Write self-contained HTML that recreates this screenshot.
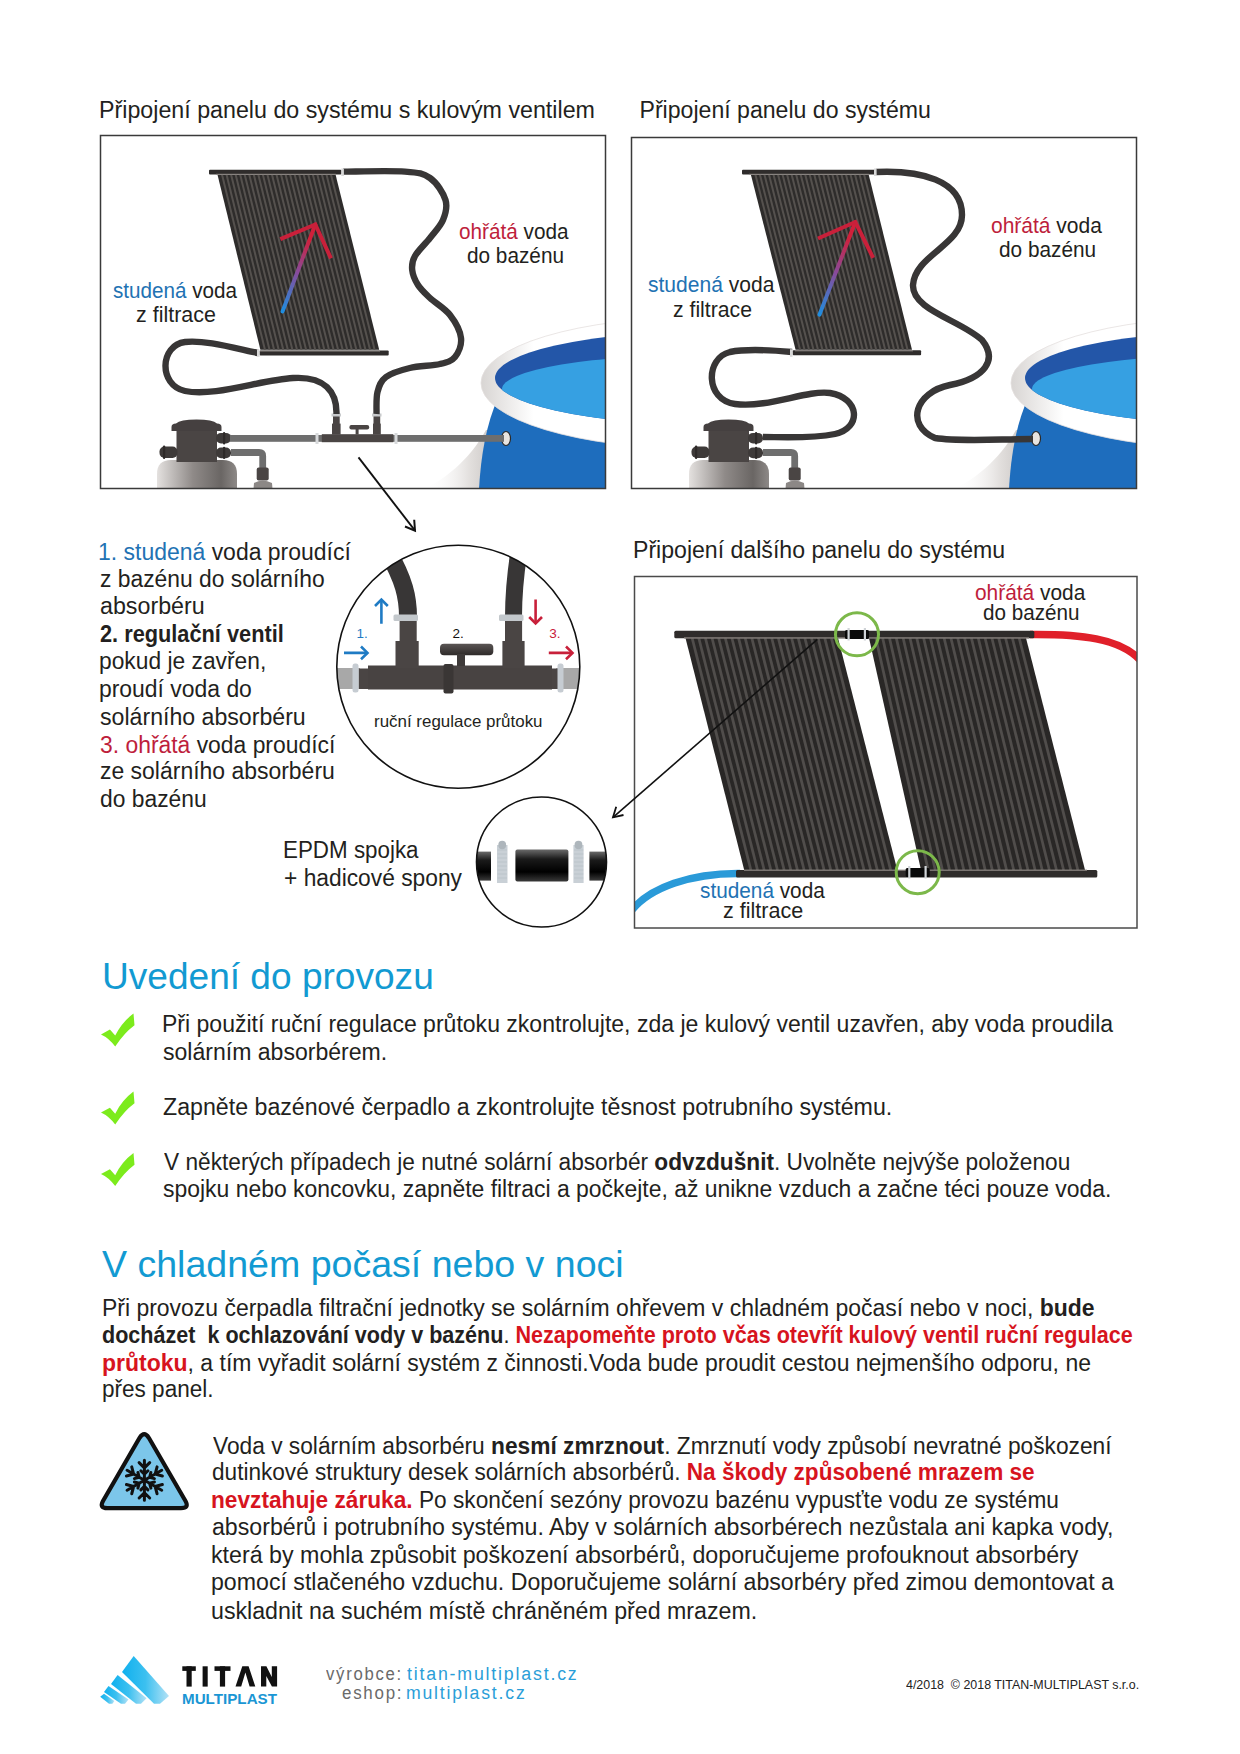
<!DOCTYPE html>
<html><head><meta charset="utf-8">
<style>
html,body{margin:0;padding:0;background:#fff;}
body{width:1240px;height:1754px;position:relative;overflow:hidden;font-family:"Liberation Sans",sans-serif;color:#231f20;}
.t{position:absolute;white-space:nowrap;}
b{font-weight:bold;}
svg.g{position:absolute;left:0;top:0;}
</style></head><body>
<svg class="g" width="1240" height="1754" viewBox="0 0 1240 1754">
<defs>
<linearGradient id="arrowg" x1="0" y1="1" x2="0.35" y2="0">
  <stop offset="0" stop-color="#1f8ee0"/><stop offset="0.55" stop-color="#8a4a9a"/><stop offset="1" stop-color="#d0203a"/>
</linearGradient>
<linearGradient id="arrowg2" gradientUnits="userSpaceOnUse" x1="0" y1="0" x2="0" y2="1">
  <stop offset="0" stop-color="#d0203a"/><stop offset="1" stop-color="#1f8ee0"/>
</linearGradient>
<linearGradient id="tank" x1="0" y1="0" x2="1" y2="0">
  <stop offset="0" stop-color="#e4e1df"/><stop offset="0.45" stop-color="#8f8a88"/><stop offset="0.8" stop-color="#6a6664"/><stop offset="1" stop-color="#8d8987"/>
</linearGradient>
<linearGradient id="rimg" x1="0" y1="0" x2="0" y2="1">
  <stop offset="0" stop-color="#f4f4f4"/><stop offset="0.5" stop-color="#ffffff"/><stop offset="1" stop-color="#e9e6e4"/>
</linearGradient>
<linearGradient id="poolbody" x1="0" y1="0" x2="1" y2="0">
  <stop offset="0" stop-color="#1d6cc0"/><stop offset="0.5" stop-color="#1f6fbe"/><stop offset="1" stop-color="#1e6cb8"/>
</linearGradient>
<radialGradient id="shadow" cx="1" cy="1" r="1">
  <stop offset="0" stop-color="#c9c5c3"/><stop offset="0.6" stop-color="#eeeceb"/><stop offset="1" stop-color="#ffffff" stop-opacity="0"/>
</radialGradient>
<linearGradient id="blackpipe" x1="0" y1="0" x2="0" y2="1">
  <stop offset="0" stop-color="#6a6a6a"/><stop offset="0.3" stop-color="#1a1a1a"/><stop offset="0.7" stop-color="#000"/><stop offset="1" stop-color="#3a3a3a"/>
</linearGradient>
<linearGradient id="disc" x1="0" y1="0" x2="0" y2="1">
  <stop offset="0" stop-color="#5a5554"/><stop offset="1" stop-color="#2e2a29"/>
</linearGradient>
<linearGradient id="logog" x1="0" y1="0" x2="1" y2="0">
  <stop offset="0" stop-color="#0fb0ee"/><stop offset="0.5" stop-color="#3cc0f0"/><stop offset="1" stop-color="#b4e2f6"/>
</linearGradient>
<linearGradient id="gshadow" x1="0" y1="0" x2="1" y2="0">
  <stop offset="0" stop-color="#ffffff" stop-opacity="0"/><stop offset="0.6" stop-color="#e2dfdd"/><stop offset="1" stop-color="#c4c0be"/>
</linearGradient>
<linearGradient id="rimshade" x1="0" y1="0" x2="1" y2="0">
  <stop offset="0" stop-color="#d8d5d3"/><stop offset="0.12" stop-color="#ffffff"/><stop offset="1" stop-color="#ffffff"/>
</linearGradient>
<clipPath id="clip1"><rect x="100.5" y="135.5" width="505" height="353"/></clipPath>
<clipPath id="clip2"><rect x="631.5" y="137.5" width="505" height="351"/></clipPath>
<clipPath id="clip3"><rect x="634.5" y="576.5" width="502.5" height="351.5"/></clipPath>
<clipPath id="clipc1"><circle cx="458.3" cy="666.7" r="121.5"/></clipPath>
<clipPath id="clipc2"><circle cx="541.5" cy="862" r="65"/></clipPath>
</defs>
<g clip-path="url(#clip1)">
<g clip-path="url(#clip1)">
<path d="M425,489 C445,478 468,462 486,430 L500,430 L500,489 Z" fill="url(#gshadow)"/>
<path d="M479,489 C481,455 486,425 498,398 L640,398 L640,489 Z" fill="#1e6dbd"/>
<ellipse cx="700" cy="383" rx="219" ry="66" fill="url(#rimshade)" stroke="#e4e0de" stroke-width="0.8"/>
<ellipse cx="700" cy="378" rx="205" ry="46" fill="#2356a8"/>
<clipPath id="wclip1"><ellipse cx="700" cy="378" rx="205" ry="46"/></clipPath>
<ellipse cx="705" cy="389" rx="203" ry="34.5" fill="#36a0e2" clip-path="url(#wclip1)"/>
<ellipse cx="506" cy="438.5" rx="4.5" ry="7" fill="#e8e4e0" stroke="#2a2a2a" stroke-width="1.2"/>
</g>
<path d="M157,489 L157,474 Q157,460 171,460 L223,460 Q237,460 237,474 L237,489 Z" fill="url(#tank)"/>
<rect x="176.5" y="428" width="40.5" height="34" fill="#4a4544"/>
<path d="M171.5,431 L171.5,427 Q171.5,423.5 176,423.5 Q180,419.5 196.5,419.5 Q213,419.5 217,423.5 Q221.5,423.5 221.5,427 L221.5,431 Z" fill="#454040"/>
<rect x="159.5" y="446.5" width="18" height="11.5" rx="5" fill="#3e3a39"/>
<rect x="163" y="445.5" width="2.2" height="13.5" rx="1" fill="#2e2a29"/>
<rect x="216" y="432.9" width="15" height="10.6" rx="5" fill="#3e3a39"/>
<rect x="223" y="432" width="2.2" height="12.4" rx="1" fill="#2e2a29"/>
<rect x="216" y="447.6" width="15" height="10.6" rx="5" fill="#3e3a39"/>
<rect x="223" y="446.7" width="2.2" height="12.4" rx="1" fill="#2e2a29"/>
<path d="M231,452.5 L259,452.5 Q262.7,452.5 262.7,456 L262.7,468" fill="none" stroke="#6e6e6e" stroke-width="6.8"/>
<rect x="256.7" y="467.5" width="12" height="13" rx="2" fill="#4a4544"/>
<path d="M253.5,489 L254,483 Q262.5,478 272,483 L272.5,489 Z" fill="#8c8886"/>
<rect x="230" y="435" width="92" height="6.8" fill="#6e6e6e"/>
<rect x="392" y="435" width="112" height="6.8" fill="#6e6e6e"/>
<rect x="321.8" y="434.2" width="71.5" height="8" fill="#4a4544"/>
<rect x="315.5" y="433" width="3" height="11" fill="#d8dadc"/><rect x="394.5" y="433" width="3" height="11" fill="#d8dadc"/>
<rect x="332" y="423.6" width="8.6" height="11" fill="#4a4544"/><rect x="333" y="416" width="6.7" height="8" fill="#4a4544"/>
<rect x="373" y="423.6" width="7.8" height="11" fill="#4a4544"/><rect x="373.5" y="416" width="6.7" height="8" fill="#4a4544"/>
<rect x="331.5" y="413.5" width="9.5" height="3" fill="#c8cacc"/><rect x="372" y="413.5" width="9.5" height="3" fill="#c8cacc"/>
<rect x="349.4" y="425" width="19.8" height="4.6" rx="2" fill="#4a4544"/><rect x="355.6" y="429" width="3" height="5.5" fill="#4a4544"/>
<path d="M258,353 C230,347 205,340 185,342 C160,345 158,385 185,391 C215,397 260,380 293,378 C325,376 337,392 336.5,414" fill="none" stroke="#383636" stroke-width="6.4"/>
<path d="M343,171.6 C353.3,171.6 390.5,170.5 405,171.6 C419.5,172.7 423.2,173.3 430,178 C436.8,182.7 443.3,193.0 445.5,200 C447.7,207.0 445.6,213.7 443,220 C440.4,226.3 434.7,232.0 430,238 C425.3,244.0 418.0,250.7 415,256 C412.0,261.3 411.7,265.2 412.2,270 C412.7,274.8 415.0,280.3 418,285 C421.0,289.7 424.7,293.0 430,298 C435.3,303.0 444.8,308.3 450,315 C455.2,321.7 460.2,331.0 461,338 C461.8,345.0 458.5,352.7 455,357 C451.5,361.3 447.5,362.2 440,364 C432.5,365.8 418.8,365.8 409.8,368 C400.8,370.2 391.4,373.0 386,377 C380.6,381.0 379.1,385.8 377.5,392 C375.9,398.2 376.7,410.3 376.5,414" fill="none" stroke="#383636" stroke-width="6.4"/>
<polygon points="217.5,174.8 335.6,174.8 379.2,349.8 260.4,349.8" fill="#2e2c2b"/>
<line x1="222.04" y1="174.8" x2="264.97" y2="349.8" stroke="#55514e" stroke-width="2.0"/>
<line x1="226.58" y1="174.8" x2="269.54" y2="349.8" stroke="#55514e" stroke-width="2.0"/>
<line x1="231.13" y1="174.8" x2="274.11" y2="349.8" stroke="#55514e" stroke-width="2.0"/>
<line x1="235.67" y1="174.8" x2="278.68" y2="349.8" stroke="#55514e" stroke-width="2.0"/>
<line x1="240.21" y1="174.8" x2="283.25" y2="349.8" stroke="#55514e" stroke-width="2.0"/>
<line x1="244.75" y1="174.8" x2="287.82" y2="349.8" stroke="#55514e" stroke-width="2.0"/>
<line x1="249.30" y1="174.8" x2="292.38" y2="349.8" stroke="#55514e" stroke-width="2.0"/>
<line x1="253.84" y1="174.8" x2="296.95" y2="349.8" stroke="#55514e" stroke-width="2.0"/>
<line x1="258.38" y1="174.8" x2="301.52" y2="349.8" stroke="#55514e" stroke-width="2.0"/>
<line x1="262.92" y1="174.8" x2="306.09" y2="349.8" stroke="#55514e" stroke-width="2.0"/>
<line x1="267.47" y1="174.8" x2="310.66" y2="349.8" stroke="#55514e" stroke-width="2.0"/>
<line x1="272.01" y1="174.8" x2="315.23" y2="349.8" stroke="#55514e" stroke-width="2.0"/>
<line x1="276.55" y1="174.8" x2="319.80" y2="349.8" stroke="#55514e" stroke-width="2.0"/>
<line x1="281.09" y1="174.8" x2="324.37" y2="349.8" stroke="#55514e" stroke-width="2.0"/>
<line x1="285.63" y1="174.8" x2="328.94" y2="349.8" stroke="#55514e" stroke-width="2.0"/>
<line x1="290.18" y1="174.8" x2="333.51" y2="349.8" stroke="#55514e" stroke-width="2.0"/>
<line x1="294.72" y1="174.8" x2="338.08" y2="349.8" stroke="#55514e" stroke-width="2.0"/>
<line x1="299.26" y1="174.8" x2="342.65" y2="349.8" stroke="#55514e" stroke-width="2.0"/>
<line x1="303.80" y1="174.8" x2="347.22" y2="349.8" stroke="#55514e" stroke-width="2.0"/>
<line x1="308.35" y1="174.8" x2="351.78" y2="349.8" stroke="#55514e" stroke-width="2.0"/>
<line x1="312.89" y1="174.8" x2="356.35" y2="349.8" stroke="#55514e" stroke-width="2.0"/>
<line x1="317.43" y1="174.8" x2="360.92" y2="349.8" stroke="#55514e" stroke-width="2.0"/>
<line x1="321.97" y1="174.8" x2="365.49" y2="349.8" stroke="#55514e" stroke-width="2.0"/>
<line x1="326.52" y1="174.8" x2="370.06" y2="349.8" stroke="#55514e" stroke-width="2.0"/>
<line x1="331.06" y1="174.8" x2="374.63" y2="349.8" stroke="#55514e" stroke-width="2.0"/>
<rect x="209" y="169.8" width="132.5" height="4.8" rx="1" fill="#2f2c2b"/><rect x="216" y="173.8" width="120" height="1" fill="#8d8783"/>
<rect x="259.5" y="350.5" width="129.2" height="5" rx="1" fill="#2f2c2b"/><rect x="260" y="350.5" width="120" height="1" fill="#8d8783"/>
<rect x="341.3" y="168.5" width="2.6" height="7.5" fill="#d8d8d8"/><rect x="257" y="349.3" width="2.6" height="7.5" fill="#d8d8d8"/>
<line x1="282.6" y1="311.4" x2="315.3" y2="224.5" stroke="url(#arrowg)" stroke-width="4" stroke-linecap="round"/>
<polyline points="280.3,239.2 315.3,224.5 331,258.4" fill="none" stroke="#c9203a" stroke-width="4" stroke-linejoin="miter"/>
</g>
<rect x="100.5" y="135.5" width="505" height="353" fill="none" stroke="#3a3a3a" stroke-width="1.5"/>
<line x1="358.5" y1="457.3" x2="415" y2="530.7" stroke="#111" stroke-width="1.9"/>
<polyline points="414.2,519.8 415,530.7 405,526.5" fill="none" stroke="#111" stroke-width="2"/>
<g clip-path="url(#clip2)">
<g clip-path="url(#clip2)">
<path d="M955,489 C975,478 998,462 1016,430 L1030,430 L1030,489 Z" fill="url(#gshadow)"/>
<path d="M1009,489 C1011,455 1016,425 1028,398 L1170,398 L1170,489 Z" fill="#1e6dbd"/>
<ellipse cx="1230" cy="383" rx="219" ry="66" fill="url(#rimshade)" stroke="#e4e0de" stroke-width="0.8"/>
<ellipse cx="1230" cy="378" rx="205" ry="46" fill="#2356a8"/>
<clipPath id="wclip2"><ellipse cx="1230" cy="378" rx="205" ry="46"/></clipPath>
<ellipse cx="1235" cy="389" rx="203" ry="34.5" fill="#36a0e2" clip-path="url(#wclip2)"/>
<ellipse cx="1036" cy="438.5" rx="4.5" ry="7" fill="#e8e4e0" stroke="#2a2a2a" stroke-width="1.2"/>
</g>
<path d="M689,489 L689,474 Q689,460 703,460 L755,460 Q769,460 769,474 L769,489 Z" fill="url(#tank)"/>
<rect x="708.5" y="428" width="40.5" height="34" fill="#4a4544"/>
<path d="M703.5,431 L703.5,427 Q703.5,423.5 708,423.5 Q712,419.5 728.5,419.5 Q745,419.5 749,423.5 Q753.5,423.5 753.5,427 L753.5,431 Z" fill="#454040"/>
<rect x="691.5" y="446.5" width="18" height="11.5" rx="5" fill="#3e3a39"/>
<rect x="695" y="445.5" width="2.2" height="13.5" rx="1" fill="#2e2a29"/>
<rect x="748" y="432.9" width="15" height="10.6" rx="5" fill="#3e3a39"/>
<rect x="755" y="432" width="2.2" height="12.4" rx="1" fill="#2e2a29"/>
<rect x="748" y="447.6" width="15" height="10.6" rx="5" fill="#3e3a39"/>
<rect x="755" y="446.7" width="2.2" height="12.4" rx="1" fill="#2e2a29"/>
<path d="M763,452.5 L791,452.5 Q794.7,452.5 794.7,456 L794.7,468" fill="none" stroke="#6e6e6e" stroke-width="6.8"/>
<rect x="788.7" y="467.5" width="12" height="13" rx="2" fill="#4a4544"/>
<path d="M785.5,489 L786,483 Q794.5,478 804,483 L804.5,489 Z" fill="#8c8886"/>
<path d="M792,352 C770,350 745,349 730,352 C705,358 705,400 735,404 C770,408 805,390 830,393 C860,398 862,428 835,434 C810,439 780,437 763,437" fill="none" stroke="#383636" stroke-width="6.4"/>
<path d="M876,172 C920,170 962,180 962,215 C962,245 915,255 913,285 C912,310 960,320 982,340 C998,360 985,378 950,385 C915,392 905,425 935,438 C960,442 1000,439 1033,439" fill="none" stroke="#383636" stroke-width="6.4"/>
<polygon points="750.9,174.8 868.7,174.8 912,349.8 795.6,349.8" fill="#2e2c2b"/>
<line x1="755.43" y1="174.8" x2="800.08" y2="349.8" stroke="#55514e" stroke-width="2.0"/>
<line x1="759.96" y1="174.8" x2="804.55" y2="349.8" stroke="#55514e" stroke-width="2.0"/>
<line x1="764.49" y1="174.8" x2="809.03" y2="349.8" stroke="#55514e" stroke-width="2.0"/>
<line x1="769.02" y1="174.8" x2="813.51" y2="349.8" stroke="#55514e" stroke-width="2.0"/>
<line x1="773.55" y1="174.8" x2="817.98" y2="349.8" stroke="#55514e" stroke-width="2.0"/>
<line x1="778.08" y1="174.8" x2="822.46" y2="349.8" stroke="#55514e" stroke-width="2.0"/>
<line x1="782.62" y1="174.8" x2="826.94" y2="349.8" stroke="#55514e" stroke-width="2.0"/>
<line x1="787.15" y1="174.8" x2="831.42" y2="349.8" stroke="#55514e" stroke-width="2.0"/>
<line x1="791.68" y1="174.8" x2="835.89" y2="349.8" stroke="#55514e" stroke-width="2.0"/>
<line x1="796.21" y1="174.8" x2="840.37" y2="349.8" stroke="#55514e" stroke-width="2.0"/>
<line x1="800.74" y1="174.8" x2="844.85" y2="349.8" stroke="#55514e" stroke-width="2.0"/>
<line x1="805.27" y1="174.8" x2="849.32" y2="349.8" stroke="#55514e" stroke-width="2.0"/>
<line x1="809.80" y1="174.8" x2="853.80" y2="349.8" stroke="#55514e" stroke-width="2.0"/>
<line x1="814.33" y1="174.8" x2="858.28" y2="349.8" stroke="#55514e" stroke-width="2.0"/>
<line x1="818.86" y1="174.8" x2="862.75" y2="349.8" stroke="#55514e" stroke-width="2.0"/>
<line x1="823.39" y1="174.8" x2="867.23" y2="349.8" stroke="#55514e" stroke-width="2.0"/>
<line x1="827.92" y1="174.8" x2="871.71" y2="349.8" stroke="#55514e" stroke-width="2.0"/>
<line x1="832.45" y1="174.8" x2="876.18" y2="349.8" stroke="#55514e" stroke-width="2.0"/>
<line x1="836.98" y1="174.8" x2="880.66" y2="349.8" stroke="#55514e" stroke-width="2.0"/>
<line x1="841.52" y1="174.8" x2="885.14" y2="349.8" stroke="#55514e" stroke-width="2.0"/>
<line x1="846.05" y1="174.8" x2="889.62" y2="349.8" stroke="#55514e" stroke-width="2.0"/>
<line x1="850.58" y1="174.8" x2="894.09" y2="349.8" stroke="#55514e" stroke-width="2.0"/>
<line x1="855.11" y1="174.8" x2="898.57" y2="349.8" stroke="#55514e" stroke-width="2.0"/>
<line x1="859.64" y1="174.8" x2="903.05" y2="349.8" stroke="#55514e" stroke-width="2.0"/>
<line x1="864.17" y1="174.8" x2="907.52" y2="349.8" stroke="#55514e" stroke-width="2.0"/>
<rect x="742" y="169.8" width="133" height="4.8" rx="1" fill="#2f2c2b"/><rect x="749" y="173.8" width="120" height="1" fill="#8d8783"/>
<rect x="792.6" y="350.3" width="128.5" height="5" rx="1" fill="#2f2c2b"/><rect x="795" y="350.3" width="118" height="1" fill="#8d8783"/>
<rect x="874" y="168.5" width="2.6" height="7.5" fill="#d8d8d8"/><rect x="790" y="349.3" width="2.6" height="7.5" fill="#d8d8d8"/>
<line x1="819.5" y1="314.6" x2="855.3" y2="222" stroke="url(#arrowg)" stroke-width="4" stroke-linecap="round"/>
<polyline points="818,238.5 855.3,222 873.2,257.9" fill="none" stroke="#c9203a" stroke-width="4"/>
</g>
<rect x="631.5" y="137.5" width="505" height="351" fill="none" stroke="#3a3a3a" stroke-width="1.5"/>
<g clip-path="url(#clip3)">
<path d="M1030,634.5 C1080,634 1120,638 1140,660" fill="none" stroke="#e0202a" stroke-width="7.5"/>
<path d="M740,873.5 C690,873 650,888 632,910" fill="none" stroke="#2a9ad8" stroke-width="7.5"/>
<polygon points="685.5,638 838,638 897.3,870 744.2,870" fill="#292726"/>
<line x1="692.13" y1="638" x2="750.86" y2="870" stroke="#504d4b" stroke-width="2.8"/>
<line x1="698.76" y1="638" x2="757.51" y2="870" stroke="#504d4b" stroke-width="2.8"/>
<line x1="705.39" y1="638" x2="764.17" y2="870" stroke="#504d4b" stroke-width="2.8"/>
<line x1="712.02" y1="638" x2="770.83" y2="870" stroke="#504d4b" stroke-width="2.8"/>
<line x1="718.65" y1="638" x2="777.48" y2="870" stroke="#504d4b" stroke-width="2.8"/>
<line x1="725.28" y1="638" x2="784.14" y2="870" stroke="#504d4b" stroke-width="2.8"/>
<line x1="731.91" y1="638" x2="790.80" y2="870" stroke="#504d4b" stroke-width="2.8"/>
<line x1="738.54" y1="638" x2="797.45" y2="870" stroke="#504d4b" stroke-width="2.8"/>
<line x1="745.17" y1="638" x2="804.11" y2="870" stroke="#504d4b" stroke-width="2.8"/>
<line x1="751.80" y1="638" x2="810.77" y2="870" stroke="#504d4b" stroke-width="2.8"/>
<line x1="758.43" y1="638" x2="817.42" y2="870" stroke="#504d4b" stroke-width="2.8"/>
<line x1="765.07" y1="638" x2="824.08" y2="870" stroke="#504d4b" stroke-width="2.8"/>
<line x1="771.70" y1="638" x2="830.73" y2="870" stroke="#504d4b" stroke-width="2.8"/>
<line x1="778.33" y1="638" x2="837.39" y2="870" stroke="#504d4b" stroke-width="2.8"/>
<line x1="784.96" y1="638" x2="844.05" y2="870" stroke="#504d4b" stroke-width="2.8"/>
<line x1="791.59" y1="638" x2="850.70" y2="870" stroke="#504d4b" stroke-width="2.8"/>
<line x1="798.22" y1="638" x2="857.36" y2="870" stroke="#504d4b" stroke-width="2.8"/>
<line x1="804.85" y1="638" x2="864.02" y2="870" stroke="#504d4b" stroke-width="2.8"/>
<line x1="811.48" y1="638" x2="870.67" y2="870" stroke="#504d4b" stroke-width="2.8"/>
<line x1="818.11" y1="638" x2="877.33" y2="870" stroke="#504d4b" stroke-width="2.8"/>
<line x1="824.74" y1="638" x2="883.99" y2="870" stroke="#504d4b" stroke-width="2.8"/>
<line x1="831.37" y1="638" x2="890.64" y2="870" stroke="#504d4b" stroke-width="2.8"/>
<polygon points="869,638 1026,638 1085,870 921,870" fill="#292726"/>
<line x1="875.83" y1="638" x2="928.13" y2="870" stroke="#504d4b" stroke-width="2.8"/>
<line x1="882.65" y1="638" x2="935.26" y2="870" stroke="#504d4b" stroke-width="2.8"/>
<line x1="889.48" y1="638" x2="942.39" y2="870" stroke="#504d4b" stroke-width="2.8"/>
<line x1="896.30" y1="638" x2="949.52" y2="870" stroke="#504d4b" stroke-width="2.8"/>
<line x1="903.13" y1="638" x2="956.65" y2="870" stroke="#504d4b" stroke-width="2.8"/>
<line x1="909.96" y1="638" x2="963.78" y2="870" stroke="#504d4b" stroke-width="2.8"/>
<line x1="916.78" y1="638" x2="970.91" y2="870" stroke="#504d4b" stroke-width="2.8"/>
<line x1="923.61" y1="638" x2="978.04" y2="870" stroke="#504d4b" stroke-width="2.8"/>
<line x1="930.43" y1="638" x2="985.17" y2="870" stroke="#504d4b" stroke-width="2.8"/>
<line x1="937.26" y1="638" x2="992.30" y2="870" stroke="#504d4b" stroke-width="2.8"/>
<line x1="944.09" y1="638" x2="999.43" y2="870" stroke="#504d4b" stroke-width="2.8"/>
<line x1="950.91" y1="638" x2="1006.57" y2="870" stroke="#504d4b" stroke-width="2.8"/>
<line x1="957.74" y1="638" x2="1013.70" y2="870" stroke="#504d4b" stroke-width="2.8"/>
<line x1="964.57" y1="638" x2="1020.83" y2="870" stroke="#504d4b" stroke-width="2.8"/>
<line x1="971.39" y1="638" x2="1027.96" y2="870" stroke="#504d4b" stroke-width="2.8"/>
<line x1="978.22" y1="638" x2="1035.09" y2="870" stroke="#504d4b" stroke-width="2.8"/>
<line x1="985.04" y1="638" x2="1042.22" y2="870" stroke="#504d4b" stroke-width="2.8"/>
<line x1="991.87" y1="638" x2="1049.35" y2="870" stroke="#504d4b" stroke-width="2.8"/>
<line x1="998.70" y1="638" x2="1056.48" y2="870" stroke="#504d4b" stroke-width="2.8"/>
<line x1="1005.52" y1="638" x2="1063.61" y2="870" stroke="#504d4b" stroke-width="2.8"/>
<line x1="1012.35" y1="638" x2="1070.74" y2="870" stroke="#504d4b" stroke-width="2.8"/>
<line x1="1019.17" y1="638" x2="1077.87" y2="870" stroke="#504d4b" stroke-width="2.8"/>
<rect x="674.3" y="630.7" width="360" height="7.6" rx="1.5" fill="#2f2c2b"/><rect x="684" y="637.3" width="345" height="1.3" fill="#8d8783"/>
<rect x="736" y="870" width="361.3" height="7.4" rx="1.5" fill="#2f2c2b"/><rect x="744" y="869.6" width="343" height="1.2" fill="#8d8783"/>
<rect x="845" y="630" width="24" height="9" rx="1.5" fill="#0a0a0a"/><rect x="847.5" y="628" width="2.2" height="12.5" fill="#d0d4d8"/><rect x="863.8" y="628" width="2.2" height="12.5" fill="#d0d4d8"/>
<rect x="905.7" y="868" width="24" height="9" rx="1.5" fill="#0a0a0a"/><rect x="908.2" y="866" width="2.2" height="12.5" fill="#d0d4d8"/><rect x="924.5" y="866" width="2.2" height="12.5" fill="#d0d4d8"/>
<circle cx="857" cy="634.3" r="21.5" fill="none" stroke="#7cb84a" stroke-width="3"/>
<circle cx="917.7" cy="872.2" r="21.5" fill="none" stroke="#7cb84a" stroke-width="3"/>
</g>
<rect x="634.5" y="576.5" width="502.5" height="351.5" fill="none" stroke="#4a4a4a" stroke-width="1.5"/>
<line x1="817.4" y1="639.3" x2="613" y2="817.3" stroke="#111" stroke-width="1.6"/>
<polyline points="616.2,806.8 613,817.3 623.5,815" fill="none" stroke="#111" stroke-width="1.8"/>
<g clip-path="url(#clipc1)">
<rect x="330" y="668" width="30" height="21" fill="#a8a8a8"/><rect x="556" y="668" width="30" height="21" fill="#a8a8a8"/>
<rect x="359" y="668.5" width="201" height="20.5" fill="#4a4544"/>
<rect x="368" y="665.5" width="184" height="24" fill="#484342"/>
<rect x="443.5" y="664" width="10" height="29.5" rx="2" fill="#3a3635"/>
<rect x="352.5" y="663.5" width="6" height="29" rx="2.5" fill="#c6ccd2"/><rect x="557.5" y="663.5" width="6" height="29" rx="2.5" fill="#c6ccd2"/>
<path d="M408,617 C408,597 404,580 388,552" fill="none" stroke="#383636" stroke-width="18"/>
<path d="M513.5,617 C513.5,595 515,575 520,545" fill="none" stroke="#383636" stroke-width="17"/>
<rect x="395.5" y="641" width="23.2" height="27" fill="#4a4544"/><rect x="399.6" y="621" width="17.1" height="21" fill="#4a4544"/>
<rect x="502.4" y="641" width="22.2" height="27" fill="#4a4544"/><rect x="505" y="621" width="17.1" height="21" fill="#4a4544"/>
<rect x="393.5" y="614.5" width="24.5" height="6.5" rx="1.5" fill="#c3c8cc"/><rect x="499" y="614.5" width="24.5" height="6.5" rx="1.5" fill="#c3c8cc"/>
<rect x="440" y="643.8" width="53.3" height="11.5" rx="4" fill="url(#disc)"/><rect x="457" y="654" width="8" height="12" fill="#3e3a39"/>
<g stroke-width="2.6" fill="none">
<line x1="344" y1="652.9" x2="367" y2="652.9" stroke="#1f7bc4"/><polyline points="361,646.5 367.5,652.9 361,659.3" stroke="#1f7bc4"/>
<line x1="381.4" y1="623.7" x2="381.4" y2="600.5" stroke="#1f7bc4"/><polyline points="375,606 381.4,599.5 387.8,606" stroke="#1f7bc4"/>
<line x1="535.6" y1="599.5" x2="535.6" y2="622.7" stroke="#c8203a"/><polyline points="529.2,617 535.6,623.5 542,617" stroke="#c8203a"/>
<line x1="548.8" y1="652.9" x2="572" y2="652.9" stroke="#c8203a"/><polyline points="566,646.5 572.5,652.9 566,659.3" stroke="#c8203a"/>
</g>
<text x="356.5" y="637.8" font-family="Liberation Sans" font-size="13.5" fill="#1f7bc4">1.</text>
<text x="452.5" y="637.8" font-family="Liberation Sans" font-size="13.5" fill="#111">2.</text>
<text x="549.3" y="637.8" font-family="Liberation Sans" font-size="13.5" fill="#c8203a">3.</text>
</g>
<circle cx="458.3" cy="666.7" r="121.5" fill="none" stroke="#111" stroke-width="1.6"/>
<g clip-path="url(#clipc2)">
<rect x="470" y="851.6" width="21" height="29" fill="url(#blackpipe)"/><rect x="589.4" y="851.6" width="22" height="29" fill="url(#blackpipe)"/>
<rect x="515.4" y="849.5" width="53" height="32" rx="2" fill="url(#blackpipe)"/>
<rect x="497" y="845" width="10.5" height="38" fill="#c9d0d6"/><ellipse cx="502.2" cy="845" rx="3.9" ry="4.2" fill="#aeb6bc"/>
<rect x="573.4" y="845" width="10.2" height="38" fill="#c9d0d6"/><ellipse cx="578.5" cy="845" rx="3.9" ry="4.2" fill="#aeb6bc"/>
<line x1="497.5" y1="850" x2="507" y2="850" stroke="#b4bcc2" stroke-width="0.6"/><line x1="574" y1="850" x2="583.3" y2="850" stroke="#b4bcc2" stroke-width="0.6"/><line x1="497.5" y1="854" x2="507" y2="854" stroke="#b4bcc2" stroke-width="0.6"/><line x1="574" y1="854" x2="583.3" y2="854" stroke="#b4bcc2" stroke-width="0.6"/><line x1="497.5" y1="858" x2="507" y2="858" stroke="#b4bcc2" stroke-width="0.6"/><line x1="574" y1="858" x2="583.3" y2="858" stroke="#b4bcc2" stroke-width="0.6"/><line x1="497.5" y1="862" x2="507" y2="862" stroke="#b4bcc2" stroke-width="0.6"/><line x1="574" y1="862" x2="583.3" y2="862" stroke="#b4bcc2" stroke-width="0.6"/><line x1="497.5" y1="866" x2="507" y2="866" stroke="#b4bcc2" stroke-width="0.6"/><line x1="574" y1="866" x2="583.3" y2="866" stroke="#b4bcc2" stroke-width="0.6"/><line x1="497.5" y1="870" x2="507" y2="870" stroke="#b4bcc2" stroke-width="0.6"/><line x1="574" y1="870" x2="583.3" y2="870" stroke="#b4bcc2" stroke-width="0.6"/><line x1="497.5" y1="874" x2="507" y2="874" stroke="#b4bcc2" stroke-width="0.6"/><line x1="574" y1="874" x2="583.3" y2="874" stroke="#b4bcc2" stroke-width="0.6"/><line x1="497.5" y1="878" x2="507" y2="878" stroke="#b4bcc2" stroke-width="0.6"/><line x1="574" y1="878" x2="583.3" y2="878" stroke="#b4bcc2" stroke-width="0.6"/>
</g>
<circle cx="541.5" cy="862" r="65" fill="none" stroke="#111" stroke-width="1.6"/>
<path d="M101,1034.4 L109.9,1029.6 L115.2,1035.6 Q122,1022 133.5,1013.5 L134.5,1025.2 Q124,1033 115.2,1046.5 Q109,1038 101,1034.4 Z" fill="#7ceb1c"/>
<path d="M101,1112.5 L109.9,1107.6999999999998 L115.2,1113.6999999999998 Q122,1100.1 133.5,1091.6 L134.5,1103.3000000000002 Q124,1111.1 115.2,1124.6 Q109,1116.1 101,1112.5 Z" fill="#7ceb1c"/>
<path d="M101,1174.0 L109.9,1169.1999999999998 L115.2,1175.1999999999998 Q122,1161.6 133.5,1153.1 L134.5,1164.8000000000002 Q124,1172.6 115.2,1186.1 Q109,1177.6 101,1174.0 Z" fill="#7ceb1c"/>
<path d="M139.6,1437.8 Q144.2,1430.5 148.8,1437.8 L185.5,1501 Q189.5,1508.2 181,1508.2 L107.4,1508.2 Q99,1508.2 103,1501 Z" fill="#7cc6ea" stroke="#111" stroke-width="4.2" stroke-linejoin="round"/>
<path d="M144.40,1480.30 L144.40,1460.30 M144.40,1467.90 L149.70,1462.60 M144.40,1467.90 L139.10,1462.60 M144.40,1474.30 L147.94,1470.76 M144.40,1474.30 L140.86,1470.76 M144.40,1480.30 L127.08,1470.30 M133.66,1474.10 L131.72,1466.86 M133.66,1474.10 L126.42,1476.04 M139.20,1477.30 L137.91,1472.47 M139.20,1477.30 L134.37,1478.59 M144.40,1480.30 L127.08,1490.30 M133.66,1486.50 L126.42,1484.56 M133.66,1486.50 L131.72,1493.74 M139.20,1483.30 L134.37,1482.01 M139.20,1483.30 L137.91,1488.13 M144.40,1480.30 L144.40,1500.30 M144.40,1492.70 L139.10,1498.00 M144.40,1492.70 L149.70,1498.00 M144.40,1486.30 L140.86,1489.84 M144.40,1486.30 L147.94,1489.84 M144.40,1480.30 L161.72,1490.30 M155.14,1486.50 L157.08,1493.74 M155.14,1486.50 L162.38,1484.56 M149.60,1483.30 L150.89,1488.13 M149.60,1483.30 L154.43,1482.01 M144.40,1480.30 L161.72,1470.30 M155.14,1474.10 L162.38,1476.04 M155.14,1474.10 L157.08,1466.86 M149.60,1477.30 L154.43,1478.59 M149.60,1477.30 L150.89,1472.47" fill="none" stroke="#111" stroke-width="3" stroke-linecap="round"/>
<g fill="url(#logog)">
<polygon points="133.7,1656 169,1696 160,1703.8 154,1703.8 122,1672"/>
<polygon points="117.6,1675 146.6,1698.3 141,1703.8 136,1703.8 111,1684"/>
<polygon points="108.5,1686 128.5,1699.6 125,1703.8 121,1703.8 104,1692"/>
<polygon points="104,1693.8 114.4,1700.9 112.4,1703.8 109,1703.8 100.2,1696.7"/>
</g>
<g fill="#111"><rect x="182.3" y="1666.3" width="13.5" height="4.6"/><rect x="186.5" y="1666.3" width="5.2" height="20.3"/><rect x="202.6" y="1666.3" width="5.1" height="20.3"/><rect x="214.5" y="1666.3" width="16" height="4.6"/><rect x="219.9" y="1666.3" width="5.2" height="20.3"/><polygon points="242.3,1666.3 248.6,1666.3 255.3,1686.6 249.6,1686.6 245.4,1672.5 241.2,1686.6 235.5,1686.6"/><path d="M261,1686.6 V1666.3 H266.4 L271.8,1677 V1666.3 H277.1 V1686.6 H271.9 L266.3,1676 V1686.6 Z"/></g>
<text x="182" y="1703.5" font-family="Liberation Sans" font-weight="bold" font-size="15.3" textLength="95" lengthAdjust="spacingAndGlyphs" fill="#1a96d4">MULTIPLAST</text>
</svg>
<div class="t" id="l0" style="left:99.49px;top:96.63px;font-size:23.1px;line-height:27.72px;transform:scaleX(1.0061);transform-origin:0 0;">Připojení panelu do systému s kulovým ventilem</div>
<div class="t" id="l1" style="left:639.50px;top:96.83px;font-size:23.1px;line-height:27.72px;transform:scaleX(1.0000);transform-origin:0 0;">Připojení panelu do systému</div>
<div class="t" id="l2" style="left:632.50px;top:536.83px;font-size:23.1px;line-height:27.72px;transform:scaleX(0.9997);transform-origin:0 0;">Připojení dalšího panelu do systému</div>
<div class="t" id="l3" style="left:112.54px;top:278.95px;font-size:21.5px;line-height:25.8px;transform:scaleX(0.9605);transform-origin:0 0;"><span style="color:#2272b3">studená</span> voda</div>
<div class="t" id="l4" style="left:135.70px;top:302.95px;font-size:21.5px;line-height:25.8px;transform:scaleX(0.9975);transform-origin:0 0;">z filtrace</div>
<div class="t" id="l5" style="left:459.11px;top:219.65px;font-size:21.5px;line-height:25.8px;transform:scaleX(0.9640);transform-origin:0 0;"><span style="color:#be1e3c">ohřátá</span> voda</div>
<div class="t" id="l6" style="left:466.52px;top:244.05px;font-size:21.5px;line-height:25.8px;transform:scaleX(0.9657);transform-origin:0 0;">do bazénu</div>
<div class="t" id="l7" style="left:648.32px;top:272.85px;font-size:21.5px;line-height:25.8px;transform:scaleX(0.9789);transform-origin:0 0;"><span style="color:#2272b3">studená</span> voda</div>
<div class="t" id="l8" style="left:672.51px;top:298.25px;font-size:21.5px;line-height:25.8px;transform:scaleX(0.9861);transform-origin:0 0;">z filtrace</div>
<div class="t" id="l9" style="left:990.51px;top:213.95px;font-size:21.5px;line-height:25.8px;transform:scaleX(0.9761);transform-origin:0 0;"><span style="color:#be1e3c">ohřátá</span> voda</div>
<div class="t" id="l10" style="left:998.52px;top:238.35px;font-size:21.5px;line-height:25.8px;transform:scaleX(0.9667);transform-origin:0 0;">do bazénu</div>
<div class="t" id="l11" style="left:974.73px;top:581.05px;font-size:21.5px;line-height:25.8px;transform:scaleX(0.9717);transform-origin:0 0;"><span style="color:#be1e3c">ohřátá</span> voda</div>
<div class="t" id="l12" style="left:982.52px;top:600.65px;font-size:21.5px;line-height:25.8px;transform:scaleX(0.9596);transform-origin:0 0;">do bazénu</div>
<div class="t" id="l13" style="left:700.14px;top:879.45px;font-size:21.5px;line-height:25.8px;transform:scaleX(0.9664);transform-origin:0 0;"><span style="color:#2272b3">studená</span> voda</div>
<div class="t" id="l14" style="left:722.50px;top:899.05px;font-size:21.5px;line-height:25.8px;transform:scaleX(1.0025);transform-origin:0 0;">z filtrace</div>
<div class="t" id="l15" style="left:97.91px;top:538.53px;font-size:23.1px;line-height:27.72px;transform:scaleX(0.9944);transform-origin:0 0;"><span style="color:#2272b3">1. studená</span> voda proudící</div>
<div class="t" id="l16" style="left:99.90px;top:566.03px;font-size:23.1px;line-height:27.72px;transform:scaleX(0.9889);transform-origin:0 0;">z bazénu do solárního</div>
<div class="t" id="l17" style="left:99.90px;top:593.13px;font-size:23.1px;line-height:27.72px;transform:scaleX(1.0069);transform-origin:0 0;">absorbéru</div>
<div class="t" id="l18" style="left:99.92px;top:621.33px;font-size:23.1px;line-height:27.72px;transform:scaleX(0.9420);transform-origin:0 0;"><b>2. regulační ventil</b></div>
<div class="t" id="l19" style="left:98.92px;top:648.03px;font-size:23.1px;line-height:27.72px;transform:scaleX(0.9868);transform-origin:0 0;">pokud je zavřen,</div>
<div class="t" id="l20" style="left:98.91px;top:676.33px;font-size:23.1px;line-height:27.72px;transform:scaleX(0.9921);transform-origin:0 0;">proudí voda do</div>
<div class="t" id="l21" style="left:99.90px;top:703.53px;font-size:23.1px;line-height:27.72px;transform:scaleX(1.0015);transform-origin:0 0;">solárního absorbéru</div>
<div class="t" id="l22" style="left:99.90px;top:731.83px;font-size:23.1px;line-height:27.72px;transform:scaleX(0.9907);transform-origin:0 0;"><span style="color:#be1e3c">3. ohřátá</span> voda proudící</div>
<div class="t" id="l23" style="left:99.90px;top:758.03px;font-size:23.1px;line-height:27.72px;transform:scaleX(0.9940);transform-origin:0 0;">ze solárního absorbéru</div>
<div class="t" id="l24" style="left:99.90px;top:786.33px;font-size:23.1px;line-height:27.72px;transform:scaleX(0.9887);transform-origin:0 0;">do bazénu</div>
<div class="t" id="l25" style="left:374.27px;top:711.88px;font-size:16.5px;line-height:19.8px;transform:scaleX(1.0264);transform-origin:0 0;">ruční regulace průtoku</div>
<div class="t" id="l26" style="left:282.55px;top:836.53px;font-size:23.1px;line-height:27.72px;transform:scaleX(0.9691);transform-origin:0 0;">EPDM spojka</div>
<div class="t" id="l27" style="left:283.51px;top:864.93px;font-size:23.1px;line-height:27.72px;transform:scaleX(0.9867);transform-origin:0 0;">+ hadicové spony</div>
<div class="t" id="l28" style="left:102.49px;top:955.17px;font-size:37px;line-height:44.4px;transform:scaleX(1.0018);transform-origin:0 0;color:#129ad2;">Uvedení do provozu</div>
<div class="t" id="l29" style="left:161.91px;top:1011.03px;font-size:23.1px;line-height:27.72px;transform:scaleX(0.9972);transform-origin:0 0;">Při použití ruční regulace průtoku zkontrolujte, zda je kulový ventil uzavřen, aby voda proudila</div>
<div class="t" id="l30" style="left:162.90px;top:1039.13px;font-size:23.1px;line-height:27.72px;transform:scaleX(0.9977);transform-origin:0 0;">solárním absorbérem.</div>
<div class="t" id="l31" style="left:162.90px;top:1093.83px;font-size:23.1px;line-height:27.72px;transform:scaleX(1.0036);transform-origin:0 0;">Zapněte bazénové čerpadlo a zkontrolujte těsnost potrubního systému.</div>
<div class="t" id="l32" style="left:163.90px;top:1148.63px;font-size:23.1px;line-height:27.72px;transform:scaleX(0.9819);transform-origin:0 0;">V některých případech je nutné solární absorbér <b>odvzdušnit</b>. Uvolněte nejvýše položenou</div>
<div class="t" id="l33" style="left:162.91px;top:1175.63px;font-size:23.1px;line-height:27.72px;transform:scaleX(0.9930);transform-origin:0 0;">spojku nebo koncovku, zapněte filtraci a počkejte, až unikne vzduch a začne téci pouze voda.</div>
<div class="t" id="l34" style="left:101.69px;top:1242.67px;font-size:37px;line-height:44.4px;transform:scaleX(1.0145);transform-origin:0 0;color:#129ad2;">V chladném počasí nebo v noci</div>
<div class="t" id="l35" style="left:101.71px;top:1295.03px;font-size:23.1px;line-height:27.72px;transform:scaleX(0.9939);transform-origin:0 0;">Při provozu čerpadla filtrační jednotky se solárním ohřevem v chladném počasí nebo v noci, <b>bude</b></div>
<div class="t" id="l36" style="left:101.76px;top:1322.23px;font-size:23.1px;line-height:27.72px;transform:scaleX(0.9338);transform-origin:0 0;"><b>docházet&nbsp; k ochlazování vody v bazénu</b>. <b style="color:#d7141e">Nezapomeňte proto včas otevřít kulový ventil ruční regulace</b></div>
<div class="t" id="l37" style="left:101.70px;top:1350.13px;font-size:23.1px;line-height:27.72px;transform:scaleX(0.9954);transform-origin:0 0;"><b style="color:#d7141e">průtoku</b>, a tím vyřadit solární systém z činnosti.Voda bude proudit cestou nejmenšího odporu, ne</div>
<div class="t" id="l38" style="left:101.72px;top:1376.33px;font-size:23.1px;line-height:27.72px;transform:scaleX(0.9759);transform-origin:0 0;">přes panel.</div>
<div class="t" id="l39" style="left:213.29px;top:1433.03px;font-size:23.1px;line-height:27.72px;transform:scaleX(0.9846);transform-origin:0 0;">Voda v solárním absorbéru <b>nesmí zmrznout</b>. Zmrznutí vody způsobí nevratné poškození</div>
<div class="t" id="l40" style="left:212.31px;top:1459.13px;font-size:23.1px;line-height:27.72px;transform:scaleX(0.9785);transform-origin:0 0;">dutinkové struktury desek solárních absorbérů. <b style="color:#d7141e">Na škody způsobené mrazem se</b></div>
<div class="t" id="l41" style="left:211.33px;top:1487.13px;font-size:23.1px;line-height:27.72px;transform:scaleX(0.9819);transform-origin:0 0;"><b style="color:#d7141e">nevztahuje záruka.</b> Po skončení sezóny provozu bazénu vypusťte vodu ze systému</div>
<div class="t" id="l42" style="left:212.30px;top:1514.33px;font-size:23.1px;line-height:27.72px;transform:scaleX(1.0021);transform-origin:0 0;">absorbérů i potrubního systému. Aby v solárních absorbérech nezůstala ani kapka vody,</div>
<div class="t" id="l43" style="left:211.29px;top:1542.33px;font-size:23.1px;line-height:27.72px;transform:scaleX(1.0055);transform-origin:0 0;">která by mohla způsobit poškození absorbérů, doporučujeme profouknout absorbéry</div>
<div class="t" id="l44" style="left:211.30px;top:1569.43px;font-size:23.1px;line-height:27.72px;transform:scaleX(1.0020);transform-origin:0 0;">pomocí stlačeného vzduchu. Doporučujeme solární absorbéry před zimou demontovat a</div>
<div class="t" id="l45" style="left:211.29px;top:1597.53px;font-size:23.1px;line-height:27.72px;transform:scaleX(1.0035);transform-origin:0 0;">uskladnit na suchém místě chráněném před mrazem.</div>
<div class="t" id="l46" style="left:326.30px;top:1663.54px;font-size:17.6px;line-height:21.12px;transform:scaleX(0.9500);transform-origin:0 0;letter-spacing:1.8px;color:#6a6a6a;">výrobce:</div>
<div class="t" id="l47" style="left:341.93px;top:1682.94px;font-size:17.6px;line-height:21.12px;transform:scaleX(0.9633);transform-origin:0 0;letter-spacing:1.8px;color:#6a6a6a;">eshop:</div>
<div class="t" id="l48" style="left:406.50px;top:1663.54px;font-size:17.6px;line-height:21.12px;transform:scaleX(1.0084);transform-origin:0 0;letter-spacing:1.8px;color:#2a9ed8;">titan-multiplast.cz</div>
<div class="t" id="l49" style="left:405.50px;top:1682.94px;font-size:17.6px;line-height:21.12px;transform:scaleX(1.0026);transform-origin:0 0;letter-spacing:1.8px;color:#2a9ed8;">multiplast.cz</div>
<div class="t" id="l50" style="left:905.50px;top:1678.36px;font-size:12.4px;line-height:14.88px;transform:scaleX(1.0017);transform-origin:0 0;color:#222;">4/2018&nbsp; © 2018 TITAN-MULTIPLAST s.r.o.</div>
</body></html>
